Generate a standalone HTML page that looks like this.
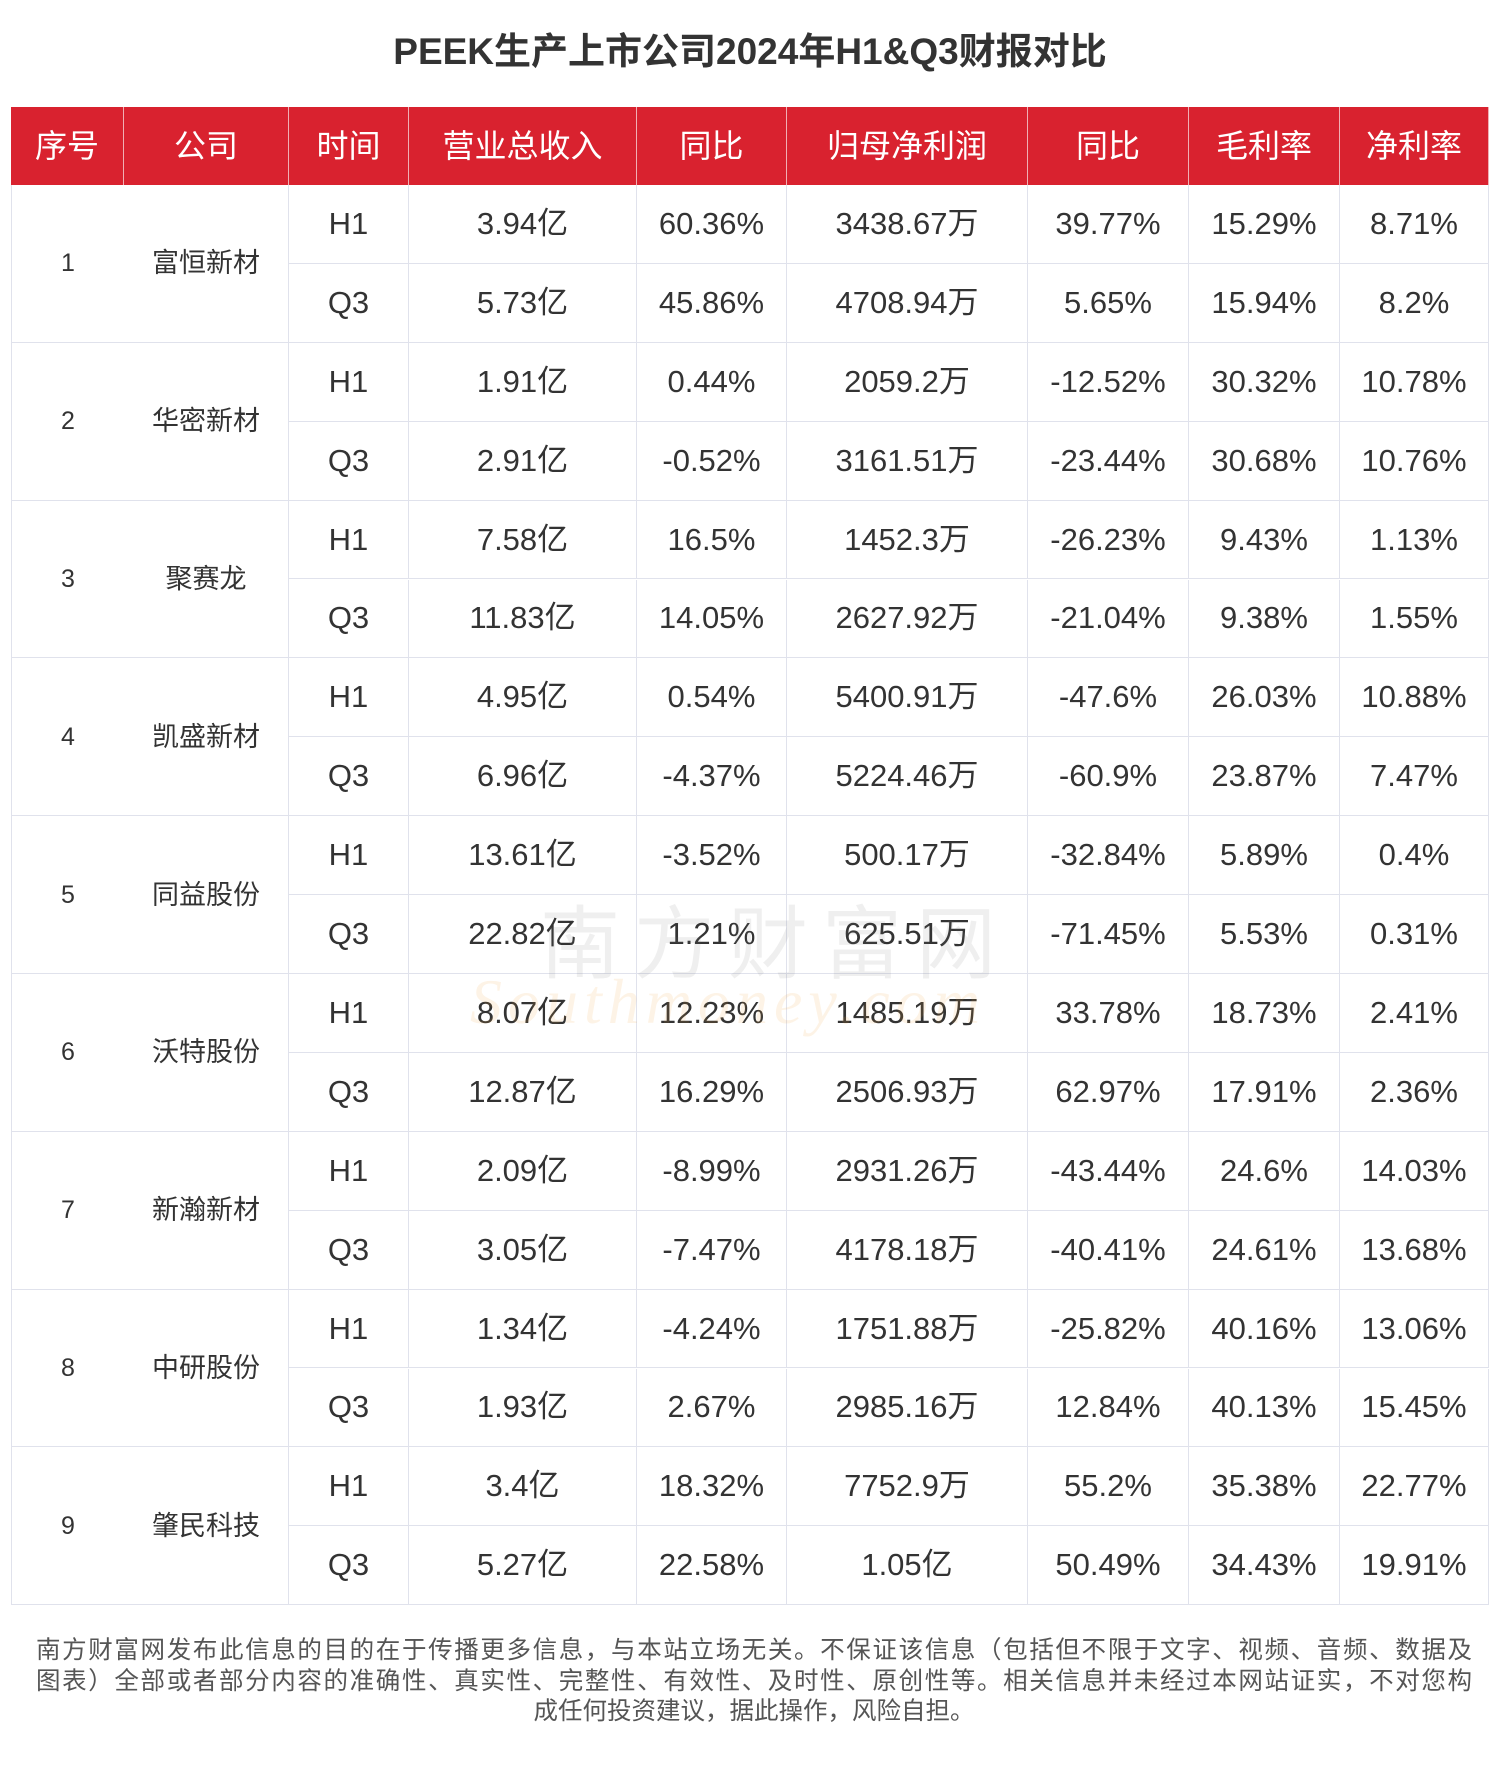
<!DOCTYPE html>
<html><head><meta charset="utf-8">
<style>
body{margin:0;background:#fff;width:1500px;height:1771px;position:relative;overflow:hidden;font-family:"Liberation Sans","Noto Sans CJK SC",sans-serif;}
#title{position:absolute;left:0;width:1500px;top:30px;text-align:center;font-size:37px;font-weight:bold;color:#333;line-height:44px;}
.c{position:absolute;display:flex;align-items:center;justify-content:center;box-sizing:border-box;color:#333;line-height:40px;white-space:nowrap;}
.h{background:#d9222f;color:#fff;font-size:32px;border-right:1px solid #f0b0b4;}
.d{font-size:31px;border-right:1px solid #e0e2ec;border-bottom:1px solid #e0e2ec;}
#wm{position:absolute;left:540px;top:880px;font-size:80px;color:rgba(120,120,120,0.12);letter-spacing:14px;}
#wm2{position:absolute;left:470px;top:965px;font-size:64px;font-style:italic;font-family:"Liberation Serif",serif;color:rgba(240,160,60,0.13);letter-spacing:6px;}
#foot{position:absolute;left:36px;width:1436px;top:1636px;font-size:24.5px;line-height:30.5px;color:#555;}
#foot div{white-space:nowrap;text-align:justify;text-align-last:justify;}
#foot div.last{text-align:center;text-align-last:center;}
</style></head><body>
<div id="title">PEEK生产上市公司2024年H1&amp;Q3财报对比</div>
<div id="tbl"></div>
<div id="wm">南方财富网</div>
<div id="wm2">Southmoney.com</div>
<div id="foot"><div>南方财富网发布此信息的目的在于传播更多信息，与本站立场无关。不保证该信息（包括但不限于文字、视频、音频、数据及</div><div>图表）全部或者部分内容的准确性、真实性、完整性、有效性、及时性、原创性等。相关信息并未经过本网站证实，不对您构</div><div class="last">成任何投资建议，据此操作，风险自担。</div></div>
<script>
const headers=["序号","公司","时间","营业总收入","同比","归母净利润","同比","毛利率","净利率"];
const companies=["富恒新材","华密新材","聚赛龙","凯盛新材","同益股份","沃特股份","新瀚新材","中研股份","肇民科技"];
const periods=["H1","Q3"];
const revenue=[["3.94亿","5.73亿"],["1.91亿","2.91亿"],["7.58亿","11.83亿"],["4.95亿","6.96亿"],["13.61亿","22.82亿"],["8.07亿","12.87亿"],["2.09亿","3.05亿"],["1.34亿","1.93亿"],["3.4亿","5.27亿"]];
const revenueYoy=[["60.36%","45.86%"],["0.44%","-0.52%"],["16.5%","14.05%"],["0.54%","-4.37%"],["-3.52%","1.21%"],["12.23%","16.29%"],["-8.99%","-7.47%"],["-4.24%","2.67%"],["18.32%","22.58%"]];
const profit=[["3438.67万","4708.94万"],["2059.2万","3161.51万"],["1452.3万","2627.92万"],["5400.91万","5224.46万"],["500.17万","625.51万"],["1485.19万","2506.93万"],["2931.26万","4178.18万"],["1751.88万","2985.16万"],["7752.9万","1.05亿"]];
const profitYoy=[["39.77%","5.65%"],["-12.52%","-23.44%"],["-26.23%","-21.04%"],["-47.6%","-60.9%"],["-32.84%","-71.45%"],["33.78%","62.97%"],["-43.44%","-40.41%"],["-25.82%","12.84%"],["55.2%","50.49%"]];
const grossMargin=[["15.29%","15.94%"],["30.32%","30.68%"],["9.43%","9.38%"],["26.03%","23.87%"],["5.89%","5.53%"],["18.73%","17.91%"],["24.6%","24.61%"],["40.16%","40.13%"],["35.38%","34.43%"]];
const netMargin=[["8.71%","8.2%"],["10.78%","10.76%"],["1.13%","1.55%"],["10.88%","7.47%"],["0.4%","0.31%"],["2.41%","2.36%"],["14.03%","13.68%"],["13.06%","15.45%"],["22.77%","19.91%"]];
const colX=[11,124,289,409,637,787,1028,1189,1340,1489];
const top0=107,headH=78,rowH=78.9;
const tbl=document.getElementById('tbl');
function cell(cls,x,y,w,h,txt){const d=document.createElement('div');d.className='c '+cls;d.style.left=x+'px';d.style.top=y+'px';d.style.width=w+'px';d.style.height=h+'px';const s=document.createElement('span');s.textContent=txt;d.appendChild(s);tbl.appendChild(d);return d;}
headers.forEach((t,i)=>{const d=cell('h',colX[i],top0,colX[i+1]-colX[i],headH,t);

});
const cols=[revenue,revenueYoy,profit,profitYoy,grossMargin,netMargin];
companies.forEach((co,r)=>{const y=top0+headH+r*2*rowH;
const s=cell('d',colX[0],y,colX[1]-colX[0],rowH*2,String(r+1));s.style.fontSize='25px';s.style.borderRight='none';s.style.borderLeft='1px solid #e0e2ec';


const c=cell('d',colX[1],y,colX[2]-colX[1],rowH*2,co);c.style.fontSize='27px';


periods.forEach((p,k)=>{const yy=y+k*rowH;
const pc=cell('d',colX[2],yy,colX[3]-colX[2],rowH,p);


cols.forEach((arr,j)=>{const v=cell('d',colX[3+j],yy,colX[4+j]-colX[3+j],rowH,arr[r][k]);

});});});
</script>
</body></html>
